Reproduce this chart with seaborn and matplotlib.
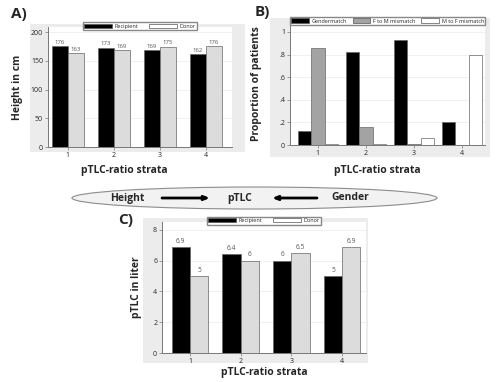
import pandas as pd
import seaborn as sns; sns.set_style("white")
import matplotlib.pyplot as plt
from matplotlib.patches import Rectangle, Ellipse
import numpy as np

plt.rcParams['font.family'] = ['Open Sans', 'DejaVu Sans']

strata = ['1', '2', '3', '4']
# panel A - height in cm
height_recipient = [176, 173, 169, 162]
height_donor = [163, 169, 175, 176]
# panel B - gender constellation
gendermatch = [0.12, 0.82, 0.93, 0.20]
f_to_m = [0.86, 0.16, 0.005, 0.0]
m_to_f = [0.005, 0.005, 0.065, 0.80]
# panel C - pTLC in liter
ptlc_recipient = [6.9, 6.4, 6.0, 5.0]
ptlc_donor = [5.0, 6.0, 6.5, 6.9]

W, H = 503, 382
fig = plt.figure(figsize=(W / 100, H / 100), dpi=100)

# overlay in pixel coords for backgrounds / diagram
bg = fig.add_axes([0, 0, 1, 1], zorder=0)
bg.set_xlim(0, W)
bg.set_ylim(H, 0)
bg.axis('off')
for x0, y0, x1, y1 in [(30, 24, 245, 152), (270, 18, 490, 157), (143, 218, 368, 363)]:
    bg.add_patch(Rectangle((x0, y0), x1 - x0, y1 - y0, fc='#ececec', ec='none'))


def px_axes(x0, y0, x1, y1):
    ax = fig.add_axes([x0 / W, 1 - y1 / H, (x1 - x0) / W, (y1 - y0) / H], zorder=1)
    ax.set_facecolor('white')
    return ax


def style(ax, yticks, ylabels, ylab, lp=4):
    ax.set_yticks(yticks)
    ax.set_yticklabels(ylabels)
    for y in yticks[1:]:
        ax.axhline(y, color='#eeeeee', lw=0.6, zorder=0)
    sns.despine(ax=ax)
    for s in ['left', 'bottom']:
        ax.spines[s].set_color('#777777')
        ax.spines[s].set_linewidth(0.7)
    ax.tick_params(axis='both', labelsize=5, length=2, width=0.5, color='#777777', pad=1.5, direction='out')
    ax.tick_params(axis='both', which='both', left=True, bottom=True)
    ax.set_xlabel('')
    ax.set_ylabel(ylab, fontsize=7.5, fontweight='bold', labelpad=lp)


def legend(ax, labels, colors, hl, cs):
    handles = [Rectangle((0, 0), 1, 1, fc=c, ec='#555555', lw=0.5) for c in colors]
    ax.legend(handles, labels, loc='upper center', bbox_to_anchor=(0.5, 1.04), ncol=len(labels),
              fontsize=4.0, frameon=True, fancybox=False, edgecolor='#888888', framealpha=1,
              handlelength=hl, handleheight=0.8, borderpad=0.25, columnspacing=cs,
              handletextpad=0.5, borderaxespad=0)


# ---- A
dfa = pd.DataFrame({'stratum': strata * 2,
                    'value': height_recipient + height_donor,
                    'group': ['Recipient'] * 4 + ['Donor'] * 4})
axa = px_axes(48, 27, 232, 147)
sns.barplot(data=dfa, x='stratum', y='value', hue='group', palette={'Recipient': 'black', 'Donor': '#dcdcdc'},
            width=0.7, edgecolor='#666666', linewidth=0.5, ax=axa, legend=False)
axa.set_ylim(0, 209)
axa.set_xlim(-0.43, 3.57)
style(axa, [0, 50, 100, 150, 200], ['0', '50', '100', '150', '200'], 'Height in cm', 6)
for c in axa.containers:
    axa.bar_label(c, fmt='%g', fontsize=4.3, color='#555555', padding=1)
legend(axa, ['Recipient', 'Donor'], ['black', 'white'], 5, 2.0)

# ---- B
dfb = pd.DataFrame({'stratum': strata * 3,
                    'value': gendermatch + f_to_m + m_to_f,
                    'group': ['Gendermatch'] * 4 + ['F to M mismatch'] * 4 + ['M to F mismatch'] * 4})
axb = px_axes(290, 22, 485, 145)
sns.barplot(data=dfb, x='stratum', y='value', hue='group',
            palette={'Gendermatch': 'black', 'F to M mismatch': '#a3a3a3', 'M to F mismatch': 'white'},
            width=0.83, edgecolor='#666666', linewidth=0.5, ax=axb, legend=False)
axb.set_ylim(0, 1.088)
axb.set_xlim(-0.58, 3.48)
style(axb, [0, 0.2, 0.4, 0.6, 0.8, 1.0], ['0', '.2', '.4', '.6', '.8', '1'], 'Proportion of patients', 12)
legend(axb, ['Gendermatch', 'F to M mismatch', 'M to F mismatch'], ['black', '#a3a3a3', 'white'], 3.2, 1.0)

# ---- C
dfc = pd.DataFrame({'stratum': strata * 2,
                    'value': ptlc_recipient + ptlc_donor,
                    'group': ['Recipient'] * 4 + ['Donor'] * 4})
axc = px_axes(162, 222, 366, 353)
sns.barplot(data=dfc, x='stratum', y='value', hue='group', palette={'Recipient': 'black', 'Donor': '#dcdcdc'},
            width=0.72, edgecolor='#666666', linewidth=0.5, ax=axc, legend=False)
axc.set_ylim(0, 8.5)
axc.set_xlim(-0.55, 3.47)
style(axc, [0, 2, 4, 6, 8], ['0', '2', '4', '6', '8'], 'pTLC in liter', 8)
for c in axc.containers:
    axc.bar_label(c, fmt='%g', fontsize=4.8, color='#555555', padding=1.5)
legend(axc, ['Recipient', 'Donor'], ['black', 'white'], 5, 2.0)

# axis titles and panel letters (pixel coords)
lab = dict(fontsize=7.5, fontweight='bold', ha='center', va='center')
bg.text(124, 170, 'pTLC-ratio strata', **lab)
bg.text(377, 170, 'pTLC-ratio strata', **lab)
bg.text(264, 373, 'pTLC-ratio strata', **lab)
bg.text(19, 14, 'A)', fontsize=11, fontweight='bold', ha='center', va='center')
bg.text(262, 12, 'B)', fontsize=11, fontweight='bold', ha='center', va='center')
bg.text(126, 220, 'C)', fontsize=11, fontweight='bold', ha='center', va='center')

# Height -> pTLC <- Gender diagram
bg.add_patch(Ellipse((254.5, 198), 365, 22, fc='#f2f2f2', ec='#8c8c8c', lw=0.8))
bg.text(127, 198, 'Height', **lab)
bg.text(240, 198, 'pTLC', **lab)
bg.text(350, 198, 'Gender', **lab)
arrow = dict(arrowstyle='-|>,head_length=0.3,head_width=0.12', lw=2, color='black', shrinkA=0, shrinkB=0)
bg.annotate('', xy=(210, 198), xytext=(162, 198), arrowprops=arrow)
bg.annotate('', xy=(272, 198), xytext=(317, 198), arrowprops=arrow)

plt.savefig('out.png', dpi=100)
